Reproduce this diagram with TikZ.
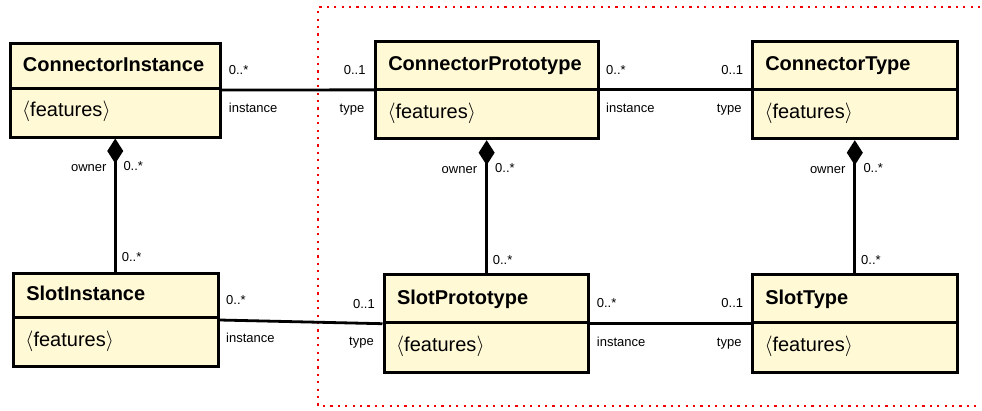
\documentclass[tikz,border=0pt]{standalone}
\usepackage{fontspec}
\setmainfont{Liberation Sans}
\usetikzlibrary{arrows.meta,fit}

\definecolor{classfill}{RGB}{255,249,214}
\definecolor{framered}{RGB}{240,0,0}

% class box: name, left, top, divider, right, bottom, title
\newcommand\umlclass[7]{%
  \node[classbox, fit={(#2,#3) (#5,#6)}] (#1) {};
  \draw[boxline] (#2,#4) -- (#5,#4);
  \node[titletext, anchor=base west] (#1-title) at ({#2+12.8},{(#3+#4)/2+5.3}) {#7};
  \node[feattext, anchor=base west] (#1-feat) at ({#2+12},{(#4+#6)/2+4.2}) {$\langle$features$\rangle$};
}

\begin{document}
\begin{tikzpicture}[x=1bp,y=-1bp,
  classbox/.style={draw=black, fill=classfill, line width=3bp, inner sep=0pt},
  boxline/.style={draw=black, line width=3bp},
  titletext/.style={inner sep=0pt, font=\fontsize{20bp}{24bp}\selectfont\bfseries},
  feattext/.style={inner sep=0pt, font=\fontsize{20bp}{24bp}\selectfont},
  lbl/.style={inner sep=0pt, font=\fontsize{13bp}{15bp}\selectfont},
  assoc/.style={draw=black, line width=2.8bp},
  comp/.style={draw=black, line width=2.8bp, {Diamond[length=25bp,width=16bp]}-},
  region/.style={draw=framered, line width=2.2bp, dash pattern=on 2.2bp off 5.2bp}
]
\useasboundingbox (0,0) rectangle (982,410);

% package region
\draw[region] (995,7) -- (318.3,7) -- (318.3,406) -- (995,406);

% classes
\umlclass{ci}{10}{43}{88.5}{220.5}{137}{ConnectorInstance}
\umlclass{cp}{375.3}{41}{89.7}{598}{138.7}{ConnectorPrototype}
\umlclass{ct}{752.3}{41}{89.7}{957.3}{138.7}{ConnectorType}
\umlclass{si}{13.3}{273.3}{317.3}{218}{366.7}{SlotInstance}
\umlclass{sp}{384}{274.7}{322.7}{588.7}{372.7}{SlotPrototype}
\umlclass{st}{752.3}{274.7}{322.7}{957.3}{372.7}{SlotType}

% associations
\draw[assoc] (ci.east) -- (cp.west);
\draw[assoc] (cp.east) -- (ct.west);
\draw[assoc] (si.east) -- (sp.west);
\draw[assoc] (sp.east) -- (st.west);

% compositions
\draw[comp] (ci.south) -- (ci.south |- si.north);
\draw[comp] (cp.south) -- (cp.south |- sp.north);
\draw[comp] (ct.south) -- (ct.south |- st.north);

% association end labels
\node[lbl, anchor=base west] (l1) at (228.7,74.3) {0..*};
\node[lbl, anchor=base west] (l2) at (228.7,112) {instance};
\node[lbl, anchor=base east] (l3) at (365.7,74.3) {0..1};
\node[lbl, anchor=base east] (l4) at (364.5,112) {type};

\node[lbl, anchor=base west] (l5) at (606,74) {0..*};
\node[lbl, anchor=base west] (l6) at (606,112.3) {instance};
\node[lbl, anchor=base east] (l7) at (743.3,74) {0..1};
\node[lbl, anchor=base east] (l8) at (741.7,112.3) {type};

\node[lbl, anchor=base west] (l9) at (226,304.3) {0..*};
\node[lbl, anchor=base west] (l10) at (226,342.3) {instance};
\node[lbl, anchor=base east] (l11) at (375,308.3) {0..1};
\node[lbl, anchor=base east] (l12) at (374,345.5) {type};

\node[lbl, anchor=base west] (l13) at (596.7,307.7) {0..*};
\node[lbl, anchor=base west] (l14) at (596.7,346.7) {instance};
\node[lbl, anchor=base east] (l15) at (743.3,307.7) {0..1};
\node[lbl, anchor=base east] (l16) at (741.7,346.5) {type};

% composition end labels
\node[lbl, anchor=base east] (o1) at (106.7,171.7) {owner};
\node[lbl, anchor=base west] (m1) at (123.3,170) {0..*};
\node[lbl, anchor=base west] (n1) at (121.7,261) {0..*};

\node[lbl, anchor=base east] (o2) at (477.3,173.3) {owner};
\node[lbl, anchor=base west] (m2) at (495,172.3) {0..*};
\node[lbl, anchor=base west] (n2) at (492.7,264) {0..*};

\node[lbl, anchor=base east] (o3) at (845.6,173) {owner};
\node[lbl, anchor=base west] (m3) at (863.3,172) {0..*};
\node[lbl, anchor=base west] (n3) at (861,264) {0..*};
\end{tikzpicture}
\end{document}
